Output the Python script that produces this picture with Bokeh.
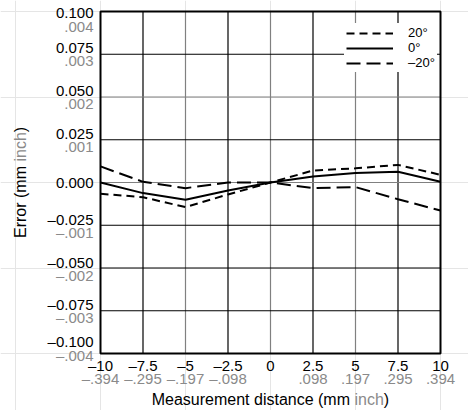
import math
from bokeh.plotting import figure
from bokeh.models import Legend, LegendItem
from bokeh.core.properties import value
from bokeh.embed import file_html
from bokeh.resources import INLINE

# ---- data ----
x_mm = [-10, -7.5, -5, -2.5, 0, 2.5, 5, 7.5, 10]
err_pos20 = [-0.0066, -0.0086, -0.0144, -0.0070, 0.0, 0.0070, 0.0083, 0.0103, 0.0045]
err_zero = [0.0, -0.0062, -0.0101, -0.0047, 0.0, 0.0035, 0.0056, 0.0063, 0.0004]
err_neg20 = [0.0094, 0.0004, -0.0033, 0.0, 0.0, -0.0033, -0.0027, -0.0098, -0.0164]
series_names = ["20°", "0°", "–20°"]

x_ticks = [-10, -7.5, -5, -2.5, 0, 2.5, 5, 7.5, 10]
x_mm_labels = ["–10", "–7.5", "–5", "–2.5", "0", "2.5", "5", "7.5", "10"]
x_inch_labels = ["–.394", "–.295", "–.197", "–.098", "", ".098", ".197", ".295", ".394"]
x_grid_gray = [-5, 0, 5]

y_ticks = [-0.1, -0.075, -0.05, -0.025, 0.0, 0.025, 0.05, 0.075, 0.1]
y_mm_labels = ["–0.100", "–0.075", "–0.050", "–0.025", "0.000", "0.025", "0.050", "0.075", "0.100"]
y_inch_labels = ["–.004", "–.003", "–.002", "–.001", "", ".001", ".002", ".003", ".004"]
y_grid_gray = [0.0, 0.05]

x_title_parts = ["Measurement distance (mm", "inch", ")"]
y_title_parts = ["Error (mm", "inch", ")"]

# ---- layout / style ----
FONT = "Liberation Sans"
BLACK = "#000000"
GRAY = "#8a8a8a"
GRID_GRAY = "#808080"
TICK_SIZE = "15px"
TITLE_SIZE = "16px"

W, H = 468, 410
L, R, T, B = 100, 440, 11, 353          # plot box in canvas pixels
xmin, xmax = x_ticks[0], x_ticks[-1]
ymin, ymax = y_ticks[0], y_ticks[-1]
sx = (R - L) / (xmax - xmin)
sy = (B - T) / (ymax - ymin)
x0 = xmin - L / sx
x1 = xmax + (W - R) / sx
y0 = ymin - (H - B) / sy
y1 = ymax + T / sy


def X(px):
    return x0 + px / sx


def Y(py):
    return y1 - py / sy


p = figure(width=W, height=H, x_range=(x0, x1), y_range=(y0, y1),
           output_backend="svg", toolbar_location=None,
           x_axis_location=None, y_axis_location=None,
           min_border=0, min_border_left=0, min_border_right=0,
           min_border_top=0, min_border_bottom=0)
p.outline_line_color = None
p.background_fill_color = "white"
p.border_fill_color = "white"

# grid lines
inner_x = x_ticks[1:-1]
inner_y = y_ticks[1:-1]
p.segment(x0=inner_x, y0=[ymin] * len(inner_x), x1=inner_x, y1=[ymax] * len(inner_x),
          line_color=[GRID_GRAY if v in x_grid_gray else BLACK for v in inner_x],
          line_width=1.2)
p.segment(x0=[xmin] * len(inner_y), y0=inner_y, x1=[xmax] * len(inner_y), y1=inner_y,
          line_color=[GRID_GRAY if v in y_grid_gray else BLACK for v in inner_y],
          line_width=1.2)

# series
r20 = p.line(x_mm, err_pos20, line_color="black", line_width=2, line_dash="8 5")
r0 = p.line(x_mm, err_zero, line_color="black", line_width=2)
rm20 = p.line(x_mm, err_neg20, line_color="black", line_width=2, line_dash="14 6")

legend = Legend(items=[LegendItem(label=series_names[0], renderers=[r20]),
                       LegendItem(label=series_names[1], renderers=[r0]),
                       LegendItem(label=series_names[2], renderers=[rm20])],
                location=(344, H - 72), orientation="vertical",
                background_fill_color="white", background_fill_alpha=1.0,
                border_line_alpha=0, padding=2, spacing=0, margin=0,
                glyph_width=47, glyph_height=12, label_height=12,
                label_standoff=15, label_text_font=FONT,
                label_text_font_size="13px", label_text_color="black")
p.add_layout(legend)

# frame box
p.quad(left=[xmin], right=[xmax], bottom=[ymin], top=[ymax],
       fill_color=None, line_color="black", line_width=2)

# y tick labels (mm black above, inch gray below)
n_y = len(y_ticks)
yb_x, yb_y, yb_t = [], [], []
yg_x, yg_y, yg_t = [], [], []
for i, (yv, lm, li) in enumerate(zip(y_ticks, y_mm_labels, y_inch_labels)):
    py = B - (yv - ymin) * sy
    if li == "":
        off_b, off_g = 0, 0
    elif i == n_y - 1:
        off_b, off_g = 1.5, 15
    elif i == 0:
        off_b, off_g = -12, 2
    else:
        off_b, off_g = -6, 7
    yb_x.append(X(L - 7)); yb_y.append(Y(py + off_b)); yb_t.append(lm)
    if li:
        yg_x.append(X(L - 7)); yg_y.append(Y(py + off_g)); yg_t.append(li)
p.text(x=yb_x, y=yb_y, text=yb_t, text_align="right", text_baseline="middle",
       text_font=value(FONT), text_font_size=TICK_SIZE, text_color=BLACK)
p.text(x=yg_x, y=yg_y, text=yg_t, text_align="right", text_baseline="middle",
       text_font=value(FONT), text_font_size=TICK_SIZE, text_color=GRAY)

# x tick labels
xg = [(xv, li) for xv, li in zip(x_ticks, x_inch_labels) if li]
p.text(x=x_ticks, y=[Y(B + 12)] * len(x_ticks), text=x_mm_labels,
       text_align="center", text_baseline="middle",
       text_font=value(FONT), text_font_size=TICK_SIZE, text_color=BLACK)
p.text(x=[a for a, _ in xg], y=[Y(B + 25)] * len(xg), text=[b for _, b in xg],
       text_align="center", text_baseline="middle",
       text_font=value(FONT), text_font_size=TICK_SIZE, text_color=GRAY)

# x axis title
ty = Y(399)
p.text(x=[X(349.5)], y=[ty], text=[x_title_parts[0]], text_align="right",
       text_baseline="middle", text_font=value(FONT), text_font_size=TITLE_SIZE,
       text_color=BLACK)
p.text(x=[X(354)], y=[ty], text=[x_title_parts[1]], text_align="left",
       text_baseline="middle", text_font=value(FONT), text_font_size=TITLE_SIZE,
       text_color=GRAY)
p.text(x=[X(383.3)], y=[ty], text=[x_title_parts[2]], text_align="left",
       text_baseline="middle", text_font=value(FONT), text_font_size=TITLE_SIZE,
       text_color=BLACK)

# y axis title (rotated)
tx = X(20)
ang = math.pi / 2
p.text(x=[tx], y=[Y(165.5)], text=[y_title_parts[0]], text_align="right",
       text_baseline="middle", angle=ang, text_font=value(FONT),
       text_font_size=TITLE_SIZE, text_color=BLACK)
p.text(x=[tx], y=[Y(161)], text=[y_title_parts[1]], text_align="left",
       text_baseline="middle", angle=ang, text_font=value(FONT),
       text_font_size=TITLE_SIZE, text_color=GRAY)
p.text(x=[tx], y=[Y(131.7)], text=[y_title_parts[2]], text_align="left",
       text_baseline="middle", angle=ang, text_font=value(FONT),
       text_font_size=TITLE_SIZE, text_color=BLACK)

open("out.html", "w").write(file_html(p, INLINE))
